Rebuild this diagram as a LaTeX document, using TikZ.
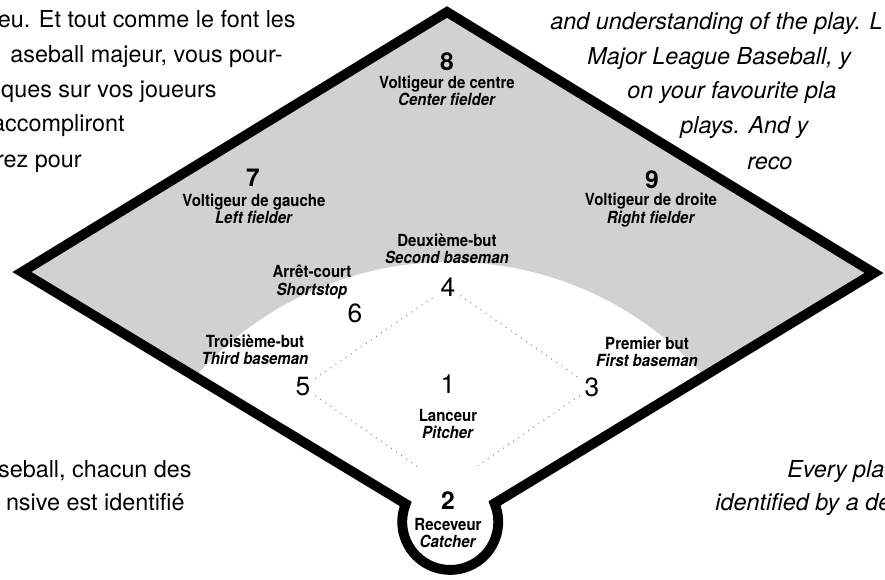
\documentclass[tikz,border=0pt]{standalone}
\usepackage{fontspec}
\setmainfont{TeX Gyre Heros}
\newfontfamily\condfont[FakeStretch=0.9]{TeX Gyre Heros}
\usetikzlibrary{positioning}
\definecolor{fieldc}{gray}{0.82}
\definecolor{basec}{gray}{0.50}

\tikzset{
  poslabel/.style={font=\condfont\fontsize{9.5}{10}\selectfont\bfseries, align=center, inner sep=1pt},
  num/.style={font=\fontsize{15}{15}\selectfont, inner sep=1pt},
  bignum/.style={font=\fontsize{14}{14}\selectfont\bfseries, inner sep=1pt},
  prose/.style={font=\fontsize{13.3}{14}\selectfont, inner sep=0pt},
  prosei/.style={prose, font=\fontsize{13.3}{14}\selectfont\itshape},
  basepath/.style={basec, line width=0.6pt, dash pattern=on 0.5pt off 3pt}
}

\begin{document}
\begin{tikzpicture}[x=0.02cm,y=0.02cm]
  \useasboundingbox (0,0) rectangle (885,579);
  % corners of the field
  \coordinate (lc) at (22,307);
  \coordinate (top) at (447,567);
  \coordinate (rc) at (874,306);
  \coordinate (hr) at (494.5,75.6);
  \coordinate (home) at (447,92);
  % outfield shading, infield left white
  \begin{scope}
    \clip (lc) -- (top) -- (rc) -- (hr) arc[start angle=22.7,end angle=-202,radius=48] -- cycle;
    \fill[fieldc] (0,0) rectangle (885,579);
    \fill[white] (450,-23) circle[radius=340];
  \end{scope}
  \draw[line width=5.6pt,line join=miter] (lc) -- (top) -- (rc) -- (hr)
    arc[start angle=22.7,end angle=-202,radius=48] -- cycle;

  % text around the field
  \node[prose,anchor=base east] (fr1) at (296,551) {eu. Et tout comme le font les};
  \node[prose,anchor=base east] (fr2) at (283,516) {aseball majeur, vous pour-};
  \node[prose,anchor=base east] (fr3) at (217,481) {ques sur vos joueurs};
  \node[prose,anchor=base east] (fr4) at (125,447) {accompliront};
  \node[prose,anchor=base east] (fr5) at (82,412) {rez pour};
  \node[prose,anchor=base east] (fr6) at (192,102) {seball, chacun des};
  \node[prose,anchor=base east] (fr7) at (185,69) {nsive est identifié};
  \node[prosei,anchor=base west] (en1) at (550,549) {and understanding of the play. L};
  \node[prosei,anchor=base west] (en2) at (587,514) {Major League Baseball, y};
  \node[prosei,anchor=base west] (en3) at (627,480) {on your favourite pla};
  \node[prosei,anchor=base west] (en4) at (680,445) {plays. And y};
  \node[prosei,anchor=base west] (en5) at (747,410) {reco};
  \node[prosei,anchor=base west] (en6) at (787,102) {Every pla};
  \node[prosei,anchor=base west] (en7) at (715,69) {identified by a de};

  % positions
  \node[bignum] (n8) at (447,517) {8};
  \node[poslabel] (p8) at (447,488) {Voltigeur de centre\\\textit{Center fielder}};
  \node[bignum] (n7) at (253,401) {7};
  \node[poslabel] (p7) at (254,370) {Voltigeur de gauche\\\textit{Left fielder}};
  \node[bignum] (n9) at (652,399) {9};
  \node[poslabel] (p9) at (651,369) {Voltigeur de droite\\\textit{Right fielder}};
  \node[poslabel] (p4) at (447,330) {Deuxième-but\\\textit{Second baseman}};
  \node[num] (n4) at (448,292) {4};
  \node[poslabel] (p6) at (312,297) {Arrêt-court\\\textit{Shortstop}};
  \node[num] (n6) at (355,266) {6};
  \node[poslabel] (p5) at (255,229) {Troisième-but\\\textit{Third baseman}};
  \node[num] (n5) at (303,192) {5};
  \node[poslabel] (p3) at (647,227) {Premier but\\\textit{First baseman}};
  \node[num] (n3) at (592,192) {3};
  \node[num] (n1) at (448,195) {1};
  \node[poslabel] (p1) at (448,155) {Lanceur\\\textit{Pitcher}};
  \node[bignum] (n2) at (448,78) {2};
  \node[poslabel] (p2) at (448,46) {Receveur\\\textit{Catcher}};

  % base paths
  \draw[basepath,shorten <=2pt,shorten >=2pt] (n5) -- (n4);
  \draw[basepath,shorten <=2pt,shorten >=2pt] (n4) -- (n3);
  \draw[basepath,shorten <=2pt,shorten >=20pt] (n3) -- (home);
  \draw[basepath,shorten <=2pt,shorten >=20pt] (n5) -- (home);
\end{tikzpicture}
\end{document}
